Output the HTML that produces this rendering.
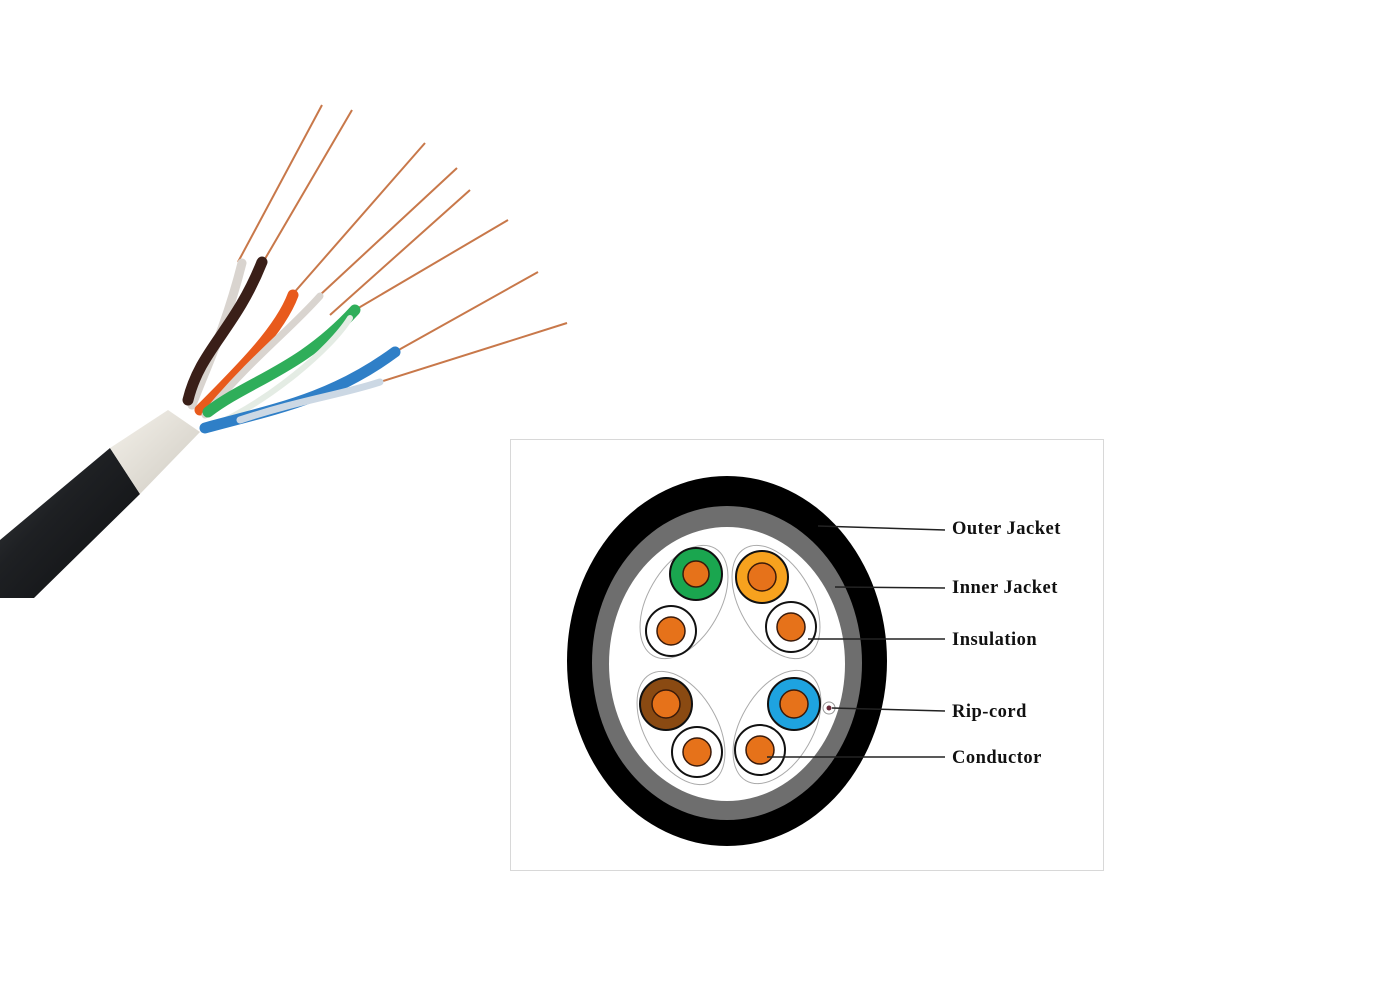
<!DOCTYPE html>
<html><head><meta charset="utf-8"><style>
html,body{margin:0;padding:0;background:#fff;width:1382px;height:992px;overflow:hidden}
svg{display:block}
text{font-family:"Liberation Serif",serif;font-size:18.5px;fill:#111;font-weight:bold;letter-spacing:0.5px}
</style></head><body>
<svg width="1382" height="992" viewBox="0 0 1382 992" xmlns="http://www.w3.org/2000/svg">
<defs>
<linearGradient id="blk" x1="0" y1="0" x2="1" y2="1">
<stop offset="0" stop-color="#3a3d40"/><stop offset="0.4" stop-color="#1e2023"/><stop offset="1" stop-color="#0d0e10"/>
</linearGradient>
<linearGradient id="wj" x1="0" y1="0" x2="1" y2="1">
<stop offset="0" stop-color="#f4f1ea"/><stop offset="1" stop-color="#cfcbc2"/>
</linearGradient>
</defs>
<polygon points="0,540 110,448 140,494 34,598 0,598" fill="url(#blk)"/>
<polygon points="110,448 168,410 200,432 140,494" fill="url(#wj)"/>
<g stroke="#c8784a" stroke-width="2" fill="none">
<path d="M238,262 L322,105"/>
<path d="M262,264 L352,110"/>
<path d="M292,295 L425,143"/>
<path d="M320,295 L457,168"/>
<path d="M330,315 L470,190"/>
<path d="M355,310 L508,220"/>
<path d="M395,352 L538,272"/>
<path d="M380,382 L567,323"/>
</g>
<g fill="none" stroke-linecap="round">
<path d="M192,405 C205,370 225,330 242,263" stroke="#d9d4cf" stroke-width="9"/>
<path d="M188,400 C200,350 235,330 262,262" stroke="#3a1f18" stroke-width="11"/>
<path d="M200,410 C240,370 280,330 293,295" stroke="#e85a1c" stroke-width="11"/>
<path d="M205,415 C250,360 290,330 320,296" stroke="#d9d4cf" stroke-width="7"/>
<path d="M208,412 C250,380 300,370 355,310" stroke="#2fae5a" stroke-width="11"/>
<path d="M215,425 C270,400 330,350 350,318" stroke="#e4ece4" stroke-width="6"/>
<path d="M205,428 C270,410 330,400 395,352" stroke="#2f7fc7" stroke-width="11"/>
<path d="M240,420 C300,400 340,395 380,382" stroke="#ccd8e4" stroke-width="7"/>
</g>
<rect x="510.5" y="439.5" width="593" height="431" fill="#fff" stroke="#d8d8d8" stroke-width="1"/>
<ellipse cx="727" cy="661" rx="160" ry="185" fill="#000"/>
<ellipse cx="727" cy="663" rx="135" ry="157" fill="#6e6e6e"/>
<ellipse cx="727" cy="664" rx="118" ry="137" fill="#fff"/>
<g fill="none" stroke="#aaa" stroke-width="1">
<ellipse cx="684" cy="602" rx="36" ry="62" transform="rotate(30 684 602)"/>
<ellipse cx="776" cy="602" rx="36" ry="62" transform="rotate(-30 776 602)"/>
<ellipse cx="681" cy="728" rx="36" ry="62" transform="rotate(-30 681 728)"/>
<ellipse cx="777" cy="727" rx="36" ry="62" transform="rotate(30 777 727)"/>
</g>
<g stroke="#111" stroke-width="2">
<circle cx="696" cy="574" r="26" fill="#1aa64f"/>
<circle cx="762" cy="577" r="26" fill="#f7a21e"/>
<circle cx="666" cy="704" r="26" fill="#8a4a12"/>
<circle cx="794" cy="704" r="26" fill="#1ea3e0"/>
<circle cx="671" cy="631" r="25" fill="#fff"/>
<circle cx="791" cy="627" r="25" fill="#fff"/>
<circle cx="697" cy="752" r="25" fill="#fff"/>
<circle cx="760" cy="750" r="25" fill="#fff"/>
</g>
<g fill="#e6721a" stroke="#3a1a0a" stroke-width="1.5">
<circle cx="696" cy="574" r="13"/><circle cx="762" cy="577" r="14"/>
<circle cx="666" cy="704" r="14"/><circle cx="794" cy="704" r="14"/>
<circle cx="671" cy="631" r="14"/><circle cx="791" cy="627" r="14"/>
<circle cx="697" cy="752" r="14"/><circle cx="760" cy="750" r="14"/>
</g>
<circle cx="829" cy="708" r="6" fill="#fff" stroke="#999"/>
<circle cx="829" cy="708" r="2.5" fill="#6b2a3a"/>
<g stroke="#222" stroke-width="1.5">
<line x1="818" y1="526" x2="945" y2="530"/>
<line x1="835" y1="587" x2="945" y2="588"/>
<line x1="808" y1="639" x2="945" y2="639"/>
<line x1="832" y1="708" x2="945" y2="711"/>
<line x1="767" y1="757" x2="945" y2="757"/>
</g>
<text x="952" y="534">Outer Jacket</text>
<text x="952" y="593">Inner Jacket</text>
<text x="952" y="645">Insulation</text>
<text x="952" y="717">Rip-cord</text>
<text x="952" y="763">Conductor</text>
</svg>
</body></html>
